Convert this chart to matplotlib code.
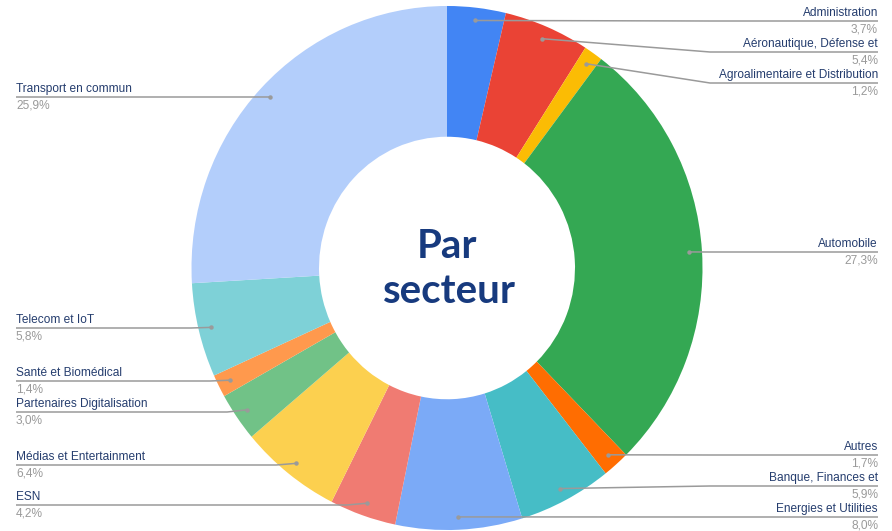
import numpy as np
import matplotlib
matplotlib.use("Agg")
import matplotlib.pyplot as plt

# data, clockwise from the top
sectors = ["Administration", "Aéronautique, Défense et", "Agroalimentaire et Distribution",
           "Automobile", "Autres", "Banque, Finances et", "Energies et Utilities", "ESN",
           "Médias et Entertainment", "Partenaires Digitalisation", "Santé et Biomédical",
           "Telecom et IoT", "Transport en commun"]
shares = [3.7, 5.4, 1.2, 27.3, 1.7, 5.9, 8.0, 4.2, 6.4, 3.0, 1.4, 5.8, 25.9]
colors = ["#4285F4", "#EA4335", "#FBBC04", "#34A853", "#FF6D01", "#46BDC6", "#7BAAF7",
          "#F07B72", "#FCD04F", "#71C287", "#FF994D", "#7ED1D7", "#B3CEFB"]

# label rows (pixel y from top), layout only
label_rows = [21, 52, 83, 252, 455, 486, 517, 505, 465, 412, 381, 328, 97]

W, H = 892, 531
S = 1.0255            # the donut is slightly taller than wide
R_OUT, R_IN = 255.5, 128
cx = 447
cy = (H - 268) / S
NAVY = "#253d6e"
GREY = "#9a9a9a"
FONT = "Liberation Sans"


def yd(row):
    # pixel row -> data y
    return (H - row) / S


fig = plt.figure(figsize=(W / 100, H / 100), dpi=100)
ax = fig.add_axes([0, 0, 1, 1])
wedges, _ = ax.pie(shares, colors=colors, startangle=90, counterclock=False,
                   radius=R_OUT, center=(cx, cy),
                   wedgeprops=dict(width=R_OUT - R_IN, linewidth=0))
ax.set_aspect("auto")
ax.set_xlim(0, W)
ax.set_ylim(0, H / S)
ax.set_axis_off()

for w, name, val, row in zip(wedges, sectors, shares, label_rows):
    mid = np.deg2rad((w.theta1 + w.theta2) / 2)
    dx, dy = cx + 243 * np.cos(mid), cy + 243 * np.sin(mid)
    ly = yd(row)
    right = np.cos(mid) > 0 or name == "Energies et Utilities"
    if right:
        if dx < 700:
            xs, ys = [dx, 710, 878], [dy, ly, ly]
        else:
            xs, ys = [dx, 878], [dy, ly]
        tx, ha = 878, "right"
    else:
        xs, ys = [dx, dx - 20, 16], [dy, ly, ly]
        tx, ha = 16, "left"
    ax.plot(xs, ys, color=GREY, lw=1.1, solid_capstyle="butt")
    ax.plot(dx, dy, "o", color=GREY, ms=3.2, mec="none")
    ax.text(tx, ly + 2, name, ha=ha, va="bottom", fontsize=8.6, color=NAVY, family=FONT)
    ax.text(tx, ly - 2.5, f"{val:.1f}".replace(".", ",") + "%", ha=ha, va="top",
            fontsize=8.6, color=GREY, family=FONT)

ax.text(cx, yd(258), "Par", ha="center", va="baseline", fontsize=29, fontweight="bold",
        color="#173a7e", family="Lato")
ax.text(cx + 2, yd(303), "secteur", ha="center", va="baseline", fontsize=29,
        fontweight="bold", color="#173a7e", family="Lato")

fig.savefig("out.png", dpi=100)
